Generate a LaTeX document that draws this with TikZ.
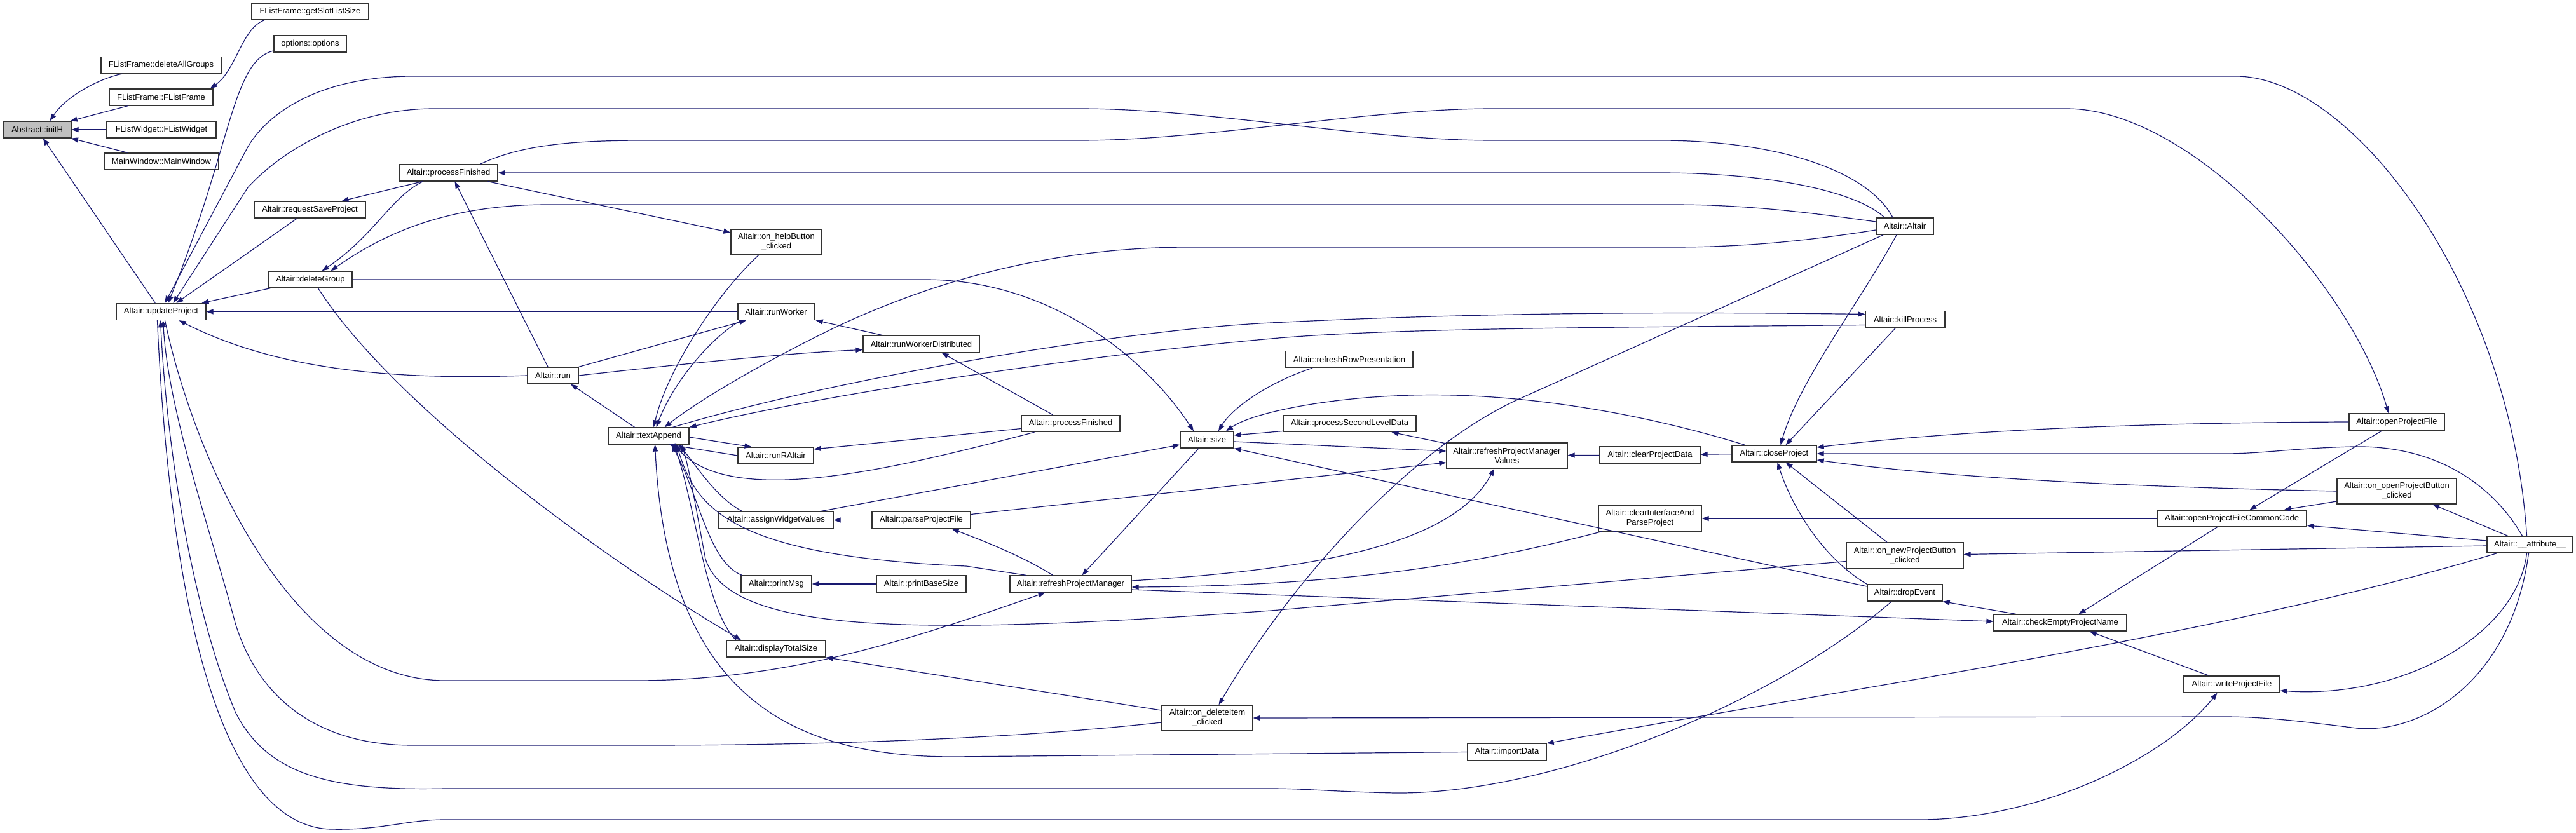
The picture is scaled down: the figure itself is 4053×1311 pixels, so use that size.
\documentclass[tikz,border=0pt]{standalone}
\usepackage{fontspec}
\setmainfont{Liberation Sans}
\usetikzlibrary{arrows.meta}
\definecolor{navy}{HTML}{191970}
\begin{document}
\begin{tikzpicture}[x=1pt,y=-1pt,
  fbox/.style={draw=black!80, line width=1.3pt, fill=white, rectangle, inner sep=0pt, align=center, minimum height=26pt, font=\fontsize{13}{15}\selectfont},
  darr/.style={draw=navy, line width=1.2pt, -{Triangle[length=11pt,width=8pt]}}]
\useasboundingbox[fill=white] (0,0) rectangle (4053,1311);
% nodes
\node[fbox,fill=black!25,minimum width=107pt] (inith) at (58.5,204) {Abstract::initH};
\node[fbox,minimum width=189pt] (dag) at (253.5,102.5) {FListFrame::deleteAllGroups};
\node[fbox,minimum width=163pt] (flf) at (253.5,153) {FListFrame::FListFrame};
\node[fbox,minimum width=172pt] (flw) at (254,204) {FListWidget::FListWidget};
\node[fbox,minimum width=180pt] (mw) at (254,254) {MainWindow::MainWindow};
\node[fbox,minimum width=184pt] (gsls) at (488,18) {FListFrame::getSlotListSize};
\node[fbox,minimum width=114pt] (opt) at (488,69) {options::options};
\node[fbox,minimum width=141pt] (upd) at (253.5,490.5) {Altair::updateProject};
\node[fbox,minimum width=175pt] (rsp) at (487.5,330) {Altair::requestSaveProject};
\node[fbox,minimum width=155pt] (pfa) at (705.5,272) {Altair::processFinished};
\node[fbox,minimum width=131pt] (dg) at (488.5,440) {Altair::deleteGroup};
\node[fbox,minimum width=80pt] (run) at (870,591) {Altair::run};
\node[fbox,minimum width=127pt] (ta) at (1020.5,686) {Altair::textAppend};
\node[fbox,minimum width=143pt,minimum height=40pt] (ohb) at (1221.5,381) {Altair::on\_helpButton\\\_clicked};
\node[fbox,minimum width=120pt] (rw) at (1221,490.5) {Altair::runWorker};
\node[fbox,minimum width=183pt] (rwd) at (1449.5,541.5) {Altair::runWorkerDistributed};
\node[fbox,minimum width=119pt] (rra) at (1220.5,717) {Altair::runRAltair};
\node[fbox,minimum width=155pt] (pfb) at (1684.5,666.5) {Altair::processFinished};
\node[fbox,minimum width=84pt] (sz) at (1899,692) {Altair::size};
\node[fbox,minimum width=180pt] (awv) at (1221,818.5) {Altair::assignWidgetValues};
\node[fbox,minimum width=155pt] (ppf) at (1449.5,818.5) {Altair::parseProjectFile};
\node[fbox,minimum width=111pt] (pm) at (1221.5,919) {Altair::printMsg};
\node[fbox,minimum width=141pt] (pbs) at (1449.5,919) {Altair::printBaseSize};
\node[fbox,minimum width=191pt] (rpm) at (1684.5,919) {Altair::refreshProjectManager};
\node[fbox,minimum width=156pt] (dts) at (1221,1021) {Altair::displayTotalSize};
\node[fbox,minimum width=143pt,minimum height=40pt] (odi) at (1899.5,1130) {Altair::on\_deleteItem\\\_clicked};
\node[fbox,minimum width=200pt] (rrp) at (2123,565.5) {Altair::refreshRowPresentation};
\node[fbox,minimum width=209pt] (psld) at (2123.5,666.5) {Altair::processSecondLevelData};
\node[fbox,minimum width=190pt,minimum height=40pt] (rpmv) at (2371,717) {Altair::refreshProjectManager\\Values};
\node[fbox,minimum width=124pt] (imp) at (2371,1183.5) {Altair::importData};
\node[fbox,minimum width=158pt] (cpd) at (2596,716) {Altair::clearProjectData};
\node[fbox,minimum width=162pt,minimum height=40pt] (ciap) at (2596,816) {Altair::clearInterfaceAnd\\ParseProject};
\node[fbox,minimum width=133pt] (cp) at (2791.5,714) {Altair::closeProject};
\node[fbox,minimum width=90pt] (alt) at (2997,356) {Altair::Altair};
\node[fbox,minimum width=125pt] (kp) at (2997.5,502.5) {Altair::killProcess};
\node[fbox,minimum width=184pt,minimum height=41pt] (onpb) at (2997,874.5) {Altair::on\_newProjectButton\\\_clicked};
\node[fbox,minimum width=118pt] (de) at (2997,933) {Altair::dropEvent};
\node[fbox,minimum width=209pt] (cepn) at (3241.5,980) {Altair::checkEmptyProjectName};
\node[fbox,minimum width=235pt] (opfcc) at (3511.5,816) {Altair::openProjectFileCommonCode};
\node[fbox,minimum width=151pt] (wpf) at (3511.5,1077) {Altair::writeProjectFile};
\node[fbox,minimum width=150pt] (opf) at (3771,664) {Altair::openProjectFile};
\node[fbox,minimum width=188pt,minimum height=40pt] (oopb) at (3771,773) {Altair::on\_openProjectButton\\\_clicked};
\node[fbox,minimum width=135pt] (attr) at (3980.5,857) {Altair::\_\_attribute\_\_};
% edges
\draw[darr] ([xshift=-61pt]dag.south) .. controls (160,122) and (105,150) .. ([xshift=20pt]inith.north);
\draw[darr] (flf) -- (inith);
\draw[darr] (flw) -- (inith);
\draw[darr] (mw) -- (inith);
\draw[darr] (upd) -- (inith);
\draw[darr] ([xshift=-72pt]gsls.south) .. controls (380,45) and (372,110) .. ([xshift=-5pt]flf.north east);
\draw[darr] ([yshift=-11pt]opt.west) .. controls (365,95) and (365,230) .. ([xshift=11pt]upd.north);
\draw[darr] ([xshift=-5pt]attr.north) .. controls (3950,450) and (3700,120) .. (3518,120) -- (650,120) .. controls (500,120) and (420,180) .. (390,231) -- ([xshift=6pt]upd.north);
\draw[darr] ([xshift=50pt]pfa.north) .. controls (820,228) and (900,221) .. (1015,221) -- (1698,221) .. controls (1900,221) and (2150,171) .. (2349,171) -- (3251,171) .. controls (3450,171) and (3700,450) .. ([xshift=-13pt]opf.north);
\draw[darr] ([xshift=-19pt]alt.north) .. controls (2940,270) and (2800,221) .. (2611,221) -- (2349,221) .. controls (2150,221) and (1900,171) .. (1698,171) -- (683,171) .. controls (560,171) and (450,230) .. (390,295) -- ([xshift=19pt]upd.north);
\draw[darr] ([xshift=-32pt]alt.north) .. controls (2920,300) and (2780,272) .. (2611,272) -- (pfa.east);
\draw[darr] ([yshift=7pt]alt.west) .. controls (2850,335) and (2750,322) .. (2632,322) -- (863,322) .. controls (700,322) and (600,370) .. ([xshift=32pt]dg.north);
\draw[darr] ([yshift=-6pt]alt.west) .. controls (2850,378) and (2750,389) .. (2632,389) -- (1871,389) .. controls (1680,389) and (1500,430) .. (1325,510) .. controls (1200,570) and (1100,630) .. ([xshift=25pt]ta.north);
\draw[darr] ([xshift=-41pt]pfa.south) -- ([xshift=50pt]rsp.north);
\draw[darr] ([xshift=-40pt]pfa.south) .. controls (615,310) and (590,370) .. ([xshift=18pt]dg.north);
\draw[darr] ([xshift=62pt]pfa.south) -- ([yshift=15pt]ohb.west);
\draw[darr] ([xshift=-8pt]run.north) -- ([xshift=10pt]pfa.south);
\draw[darr] ([xshift=-20pt]rsp.south) -- ([xshift=24pt]upd.north);
\draw[darr] ([xshift=3pt]dg.south west) -- ([xshift=64pt]upd.north);
\draw[darr] (rw) -- (upd);
\draw[darr] (run.west) .. controls (650,597) and (450,590) .. ([xshift=28pt]upd.south);
\draw[darr] (dg.east) -- (1455,440) .. controls (1650,440) and (1800,560) .. ([xshift=-21pt]sz.north);
\draw[darr] ([xshift=12pt]dg.south) .. controls (620,640) and (950,880) .. ([xshift=-55pt]dts.north);
\draw[darr] ([xshift=6pt]upd.south) .. controls (300,700) and (450,1071) .. (700,1071) -- (1000,1071) .. controls (1250,1071) and (1450,1000) .. ([xshift=-40pt]rpm.south);
\draw[darr] ([yshift=-7pt]odi.west) .. controls (1500,1173) and (1100,1173) .. (1000,1173) -- (650,1173) .. controls (480,1173) and (400,1080) .. (370,980) .. controls (330,830) and (265,650) .. ([xshift=3pt]upd.south);
\draw[darr] ([xshift=-21pt]de.south) .. controls (2800,1100) and (2450,1250) .. (2195,1248) .. controls (2100,1246) and (2050,1241) .. (2000,1241) -- (700,1241) .. controls (520,1245) and (420,1220) .. (370,1120) .. controls (300,950) and (262,700) .. ([xshift=-1pt]upd.south);
\draw[darr] ([xshift=-6pt]upd.south) .. controls (270,1000) and (360,1300) .. (520,1305) .. controls (600,1307) and (640,1290) .. (700,1290) -- (3020,1290) .. controls (3200,1290) and (3400,1200) .. ([xshift=-23pt]wpf.south);
\draw[darr] ([xshift=38pt]ta.north) .. controls (1300,600) and (1750,520) .. (2000,508) .. controls (2300,493) and (2600,490) .. ([yshift=8pt]kp.west);
\draw[darr] ([yshift=-9pt]kp.west) .. controls (2600,515) and (2200,515) .. (2000,533) .. controls (1700,560) and (1300,620) .. (ta.north east);
\draw[darr] ([xshift=-28pt]ohb.south) .. controls (1130,460) and (1050,580) .. ([xshift=8pt]ta.north);
\draw[darr] ([xshift=-55pt]rw.south) .. controls (1120,530) and (1060,600) .. ([xshift=12pt]ta.north);
\draw[darr] (run.north east) -- ([xshift=-47pt]rw.south);
\draw[darr] (run.east) .. controls (1100,570) and (1250,555) .. ([yshift=-9pt]rwd.west);
\draw[darr] ([xshift=-22pt]ta.north) -- ([xshift=28pt]run.south);
\draw[darr] ([xshift=-60pt]rwd.north) -- ([xshift=2pt]rw.south east);
\draw[darr] ([yshift=-2pt]ta.east) -- ([xshift=-38pt]rra.north);
\draw[darr] (rra.west) -- ([xshift=32pt]ta.south);
\draw[darr] ([xshift=-28pt]pfb.north) -- ([xshift=32pt]rwd.south);
\draw[darr] ([yshift=-8pt]pfb.west) -- ([yshift=10pt]rra.east);
\draw[darr] ([xshift=-57pt]pfb.south) .. controls (1400,740) and (1150,800) .. ([xshift=40pt]ta.south);
\draw[darr] ([xshift=-53pt]awv.north) .. controls (1130,785) and (1100,740) .. ([xshift=48pt]ta.south);
\draw[darr] ([xshift=-70pt]rpm.north) -- (1520,891) .. controls (1150,875) and (1095,800) .. ([xshift=44pt]ta.south);
\draw[darr] ([xshift=2pt]pm.north west) .. controls (1115,885) and (1100,780) .. ([xshift=36pt]ta.south);
\draw[darr] ([xshift=-63pt]dts.north) .. controls (1110,960) and (1095,800) .. ([xshift=40pt]ta.south);
\draw[darr] (imp.west) -- (1500,1191) .. controls (1250,1191) and (1050,1100) .. ([xshift=10pt]ta.south);
\draw[darr] ([yshift=-9pt]onpb.west) -- (2000,961) .. controls (1450,1000) and (1150,1000) .. (1110,880) .. controls (1095,800) and (1085,740) .. ([xshift=52pt]ta.south);
\draw[darr] ([xshift=-58pt]rrp.south) .. controls (2000,600) and (1940,640) .. ([xshift=18pt]sz.north);
\draw[darr] ([xshift=-46pt]cp.north) .. controls (2550,640) and (2350,615) .. (2195,623) .. controls (2080,628) and (1970,650) .. ([xshift=30pt]sz.north);
\draw[darr] ([yshift=-12pt]psld.west) -- ([yshift=7pt]sz.east);
\draw[darr] ([yshift=-3pt]sz.east) -- ([yshift=7pt]rpmv.west);
\draw[darr] ([yshift=10pt]de.west) -- (sz.south east);
\draw[darr] ([xshift=69pt]awv.north) -- ([yshift=-8pt]sz.west);
\draw[darr] (ppf) -- (awv);
\draw[darr] ([yshift=9pt]ppf.east) -- ([yshift=-11pt]rpmv.west);
\draw[darr] ([xshift=-28pt]rpm.north) .. controls (1600,870) and (1530,845) .. ([xshift=48pt]ppf.south);
\draw[darr] ([xshift=-13pt]sz.south) -- ([xshift=18pt]rpm.north);
\draw[darr] (pbs) -- (pm);
\draw[darr] ([yshift=5pt]rpm.east) .. controls (2100,895) and (2290,850) .. ([xshift=-20pt]rpmv.south);
\draw[darr] ([xshift=-76pt]ciap.south) .. controls (2350,880) and (2150,922) .. ([yshift=-5pt]rpm.east);
\draw[darr] ([yshift=-9pt]rpm.east) -- ([yshift=2pt]cepn.west);
\draw[darr] ([yshift=12pt]odi.west) -- (dts.south east);
\draw[darr] ([xshift=-13pt]alt.south) .. controls (2930,470) and (2830,600) .. ([xshift=10pt]cp.north);
\draw[darr] ([xshift=-15pt]kp.south) -- ([xshift=18pt]cp.north);
\draw[darr] ([xshift=-34pt]alt.south) -- (2390,628) .. controls (2230,700) and (2040,900) .. ([xshift=18pt]odi.north);
\draw[darr] (cp) -- (cpd);
\draw[darr] (cpd) -- (rpmv);
\draw[darr] ([yshift=19pt]rpmv.west) -- ([xshift=66pt]psld.south);
\draw[darr] (opf.west) .. controls (3400,665) and (3100,675) .. ([yshift=10pt]cp.east);
\draw[darr] ([xshift=-12pt]attr.north) .. controls (3920,760) and (3830,700) .. (3700,703) .. controls (3600,706) and (3560,714) .. (3500,714) -- (cp.east);
\draw[darr] (oopb.west) .. controls (3300,765) and (3050,750) .. ([yshift=-10pt]cp.east);
\draw[darr] ([xshift=-28pt]onpb.north) -- ([xshift=18pt]cp.south);
\draw[darr] (de.north west) .. controls (2870,880) and (2820,800) .. ([xshift=5pt]cp.south);
\draw[darr] (opfcc) -- (ciap);
\draw[darr] ([yshift=-2pt]attr.west) -- ([yshift=2pt]onpb.east);
\draw[darr] ([xshift=-70pt]cepn.north) -- (de.south east);
\draw[darr] ([xshift=-23pt]opfcc.south) -- ([xshift=29pt]cepn.north);
\draw[darr] ([xshift=-36pt]wpf.north) -- ([xshift=46pt]cepn.south);
\draw[darr] ([xshift=-5pt]attr.south) .. controls (3960,1000) and (3780,1100) .. ([yshift=-10pt]wpf.east);
\draw[darr] ([xshift=-2pt]attr.south) .. controls (3950,1080) and (3800,1160) .. (3700,1145) .. controls (3620,1135) and (3560,1128) .. (3500,1128) -- (odi.east);
\draw[darr] ([xshift=-52pt]attr.south) .. controls (3500,1000) and (2900,1085) .. (imp.north east);
\draw[darr] ([yshift=6pt]attr.west) -- ([yshift=-11pt]opfcc.east);
\draw[darr] ([xshift=-35pt]attr.north) -- ([xshift=56pt]oopb.south);
\draw[darr] ([xshift=-23pt]opf.south) -- ([xshift=28pt]opfcc.north);
\draw[darr] ([yshift=-16pt]oopb.west) -- ([xshift=82pt]opfcc.north);
\end{tikzpicture}
\end{document}
